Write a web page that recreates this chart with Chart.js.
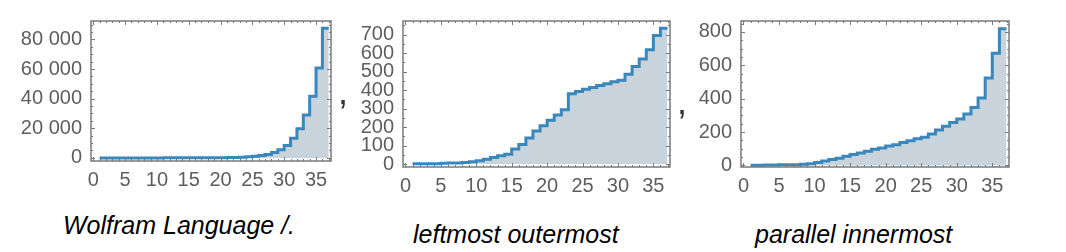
<!DOCTYPE html>
<html><head><meta charset="utf-8">
<script src="https://cdn.jsdelivr.net/npm/chart.js@4/dist/chart.umd.min.js"></script>
<style>
html,body{margin:0;padding:0;background:#fff;width:1066px;height:252px;overflow:hidden;position:relative;}
canvas{position:absolute;top:0;}
.cap{position:absolute;font-family:"Liberation Sans",Arial,sans-serif;font-style:italic;font-size:25px;line-height:25px;color:#000;white-space:nowrap;}
.comma{position:absolute;font-family:"Liberation Sans",Arial,sans-serif;font-size:36px;line-height:36px;color:#333;}
</style></head><body>
<canvas id="c1" width="340" height="200" style="left:0px"></canvas>
<canvas id="c2" width="340" height="200" style="left:340px"></canvas>
<canvas id="c3" width="386" height="200" style="left:680px"></canvas>
<span class="comma" style="left:338px;top:74px">,</span>
<span class="comma" style="left:677px;top:84px">,</span>
<span class="cap" style="left:63px;top:213px">Wolfram Language /.</span>
<span class="cap" style="left:413px;top:222px">leftmost outermost</span>
<span class="cap" style="left:755px;top:222px">parallel innermost</span>
<script>
// step index (x) runs 1..36, each step spans [i, i+1]
const steps = [1,2,3,4,5,6,7,8,9,10,11,12,13,14,15,16,17,18,19,20,21,22,23,24,25,26,27,28,29,30,31,32,33,34,35,36];
const wolframValues = [1,1,1,2,2,3,4,5,7,9,12,16,21,28,37,49,65,86,114,150,230,340,500,720,1050,1550,2300,3600,5500,8400,13200,19700,29000,41700,60800,87600];
const leftmostValues = [1,1,2,2,4,5,6,8,12,18,26,35,45,53,81,105,141,178,207,236,265,294,380,392,404,413,424,434,445,453,485,527,568,618,694,734];
const parallelValues = [2,2,3,3,4,4,5,7,11,18,27,36,44,55,66,75,85,98,105,116,124,137,148,160,169,188,212,235,258,279,308,347,404,524,672,818];
const xTickValues = [0,5,10,15,20,25,30,35];
const yTicks1 = [0,20000,40000,60000,80000];
const yTickLabels1 = ['0','20 000','40 000','60 000','80 000'];
const yTicks2 = [0,100,200,300,400,500,600,700];
const yTicks3 = [0,200,400,600,800];

const LINE = '#3a87bb';
const FILL = '#c9d3db';
const FRAME = '#7a7a7a';
const LABEL = '#5e5e5e';

const framePlugin = {
  id: 'frame',
  afterDraw(chart, args, o) {
    const {ctx, chartArea: a, scales: {x, y}} = chart;
    ctx.save();
    ctx.strokeStyle = FRAME;
    ctx.lineWidth = 1;
    ctx.beginPath();
    for (let v = Math.ceil(x.min); v <= x.max; v++) {
      const px = Math.round(x.getPixelForValue(v)) + 0.5;
      const L = v % 5 === 0 ? 4 : 2;
      ctx.moveTo(px, a.bottom); ctx.lineTo(px, a.bottom - L);
      ctx.moveTo(px, a.top); ctx.lineTo(px, a.top + L);
    }
    const start = Math.ceil(y.min / o.minor) * o.minor;
    for (let v = start; v <= y.max; v += o.minor) {
      const py = Math.round(y.getPixelForValue(v)) + 0.5;
      const L = v % o.major === 0 ? 4 : 2;
      ctx.moveTo(a.left, py); ctx.lineTo(a.left + L, py);
      ctx.moveTo(a.right, py); ctx.lineTo(a.right - L, py);
    }
    ctx.stroke();
    ctx.lineWidth = 1.5;
    ctx.strokeRect(a.left, a.top, a.right - a.left, a.bottom - a.top);
    ctx.restore();
  }
};

function makeChart(id, values, cfg) {
  const pts = steps.map((s, i) => ({x: s, y: values[i]}));
  pts.push({x: steps[steps.length - 1] + 1, y: values[values.length - 1]});
  return new Chart(document.getElementById(id), {
    type: 'line',
    data: {datasets: [{
      data: pts,
      stepped: 'before',
      borderColor: LINE,
      borderWidth: 3,
      backgroundColor: FILL,
      fill: 'origin',
      pointRadius: 0,
      borderJoinStyle: 'miter',
      borderCapStyle: 'butt'
    }]},
    options: {
      responsive: false,
      animation: false,
      devicePixelRatio: 1,
      layout: {padding: cfg.pad},
      plugins: {legend: {display: false}, tooltip: {enabled: false}, frame: {minor: cfg.minor, major: cfg.major}},
      scales: {
        x: {
          type: 'linear', min: -0.35, max: 37.35,
          afterBuildTicks: s => { s.ticks = xTickValues.map(v => ({value: v})); },
          afterFit: s => { s.height = 30; },
          grid: {display: false, drawTicks: false},
          border: {display: false},
          ticks: {font: {family: 'Liberation Sans', size: 20}, color: LABEL, padding: 7, autoSkip: false, maxRotation: 0}
        },
        y: {
          type: 'linear', min: cfg.ymin, max: cfg.ymax,
          afterBuildTicks: s => { s.ticks = cfg.yt.map(v => ({value: v})); },
          afterFit: s => { s.width = cfg.yw; },
          grid: {display: false, drawTicks: false},
          border: {display: false},
          ticks: {font: {family: 'Liberation Sans', size: 20}, color: LABEL, padding: 9, autoSkip: false,
            callback: (v, i) => cfg.yl ? cfg.yl[i] : String(v)}
        }
      }
    },
    plugins: [framePlugin]
  });
}

makeChart('c1', wolframValues, {pad: {left: 0, right: 9, top: 11, bottom: 9}, yw: 91, ymin: -2100, ymax: 92500, yt: yTicks1, yl: yTickLabels1, minor: 5000, major: 20000});
makeChart('c2', leftmostValues, {pad: {left: 0, right: 10, top: 4, bottom: 3}, yw: 63, ymin: -16, ymax: 773, yt: yTicks2, minor: 50, major: 100});
makeChart('c3', parallelValues, {pad: {left: 0, right: 57, top: 3, bottom: 3}, yw: 61, ymin: -9, ymax: 865, yt: yTicks3, minor: 50, major: 200});
</script>
</body></html>
